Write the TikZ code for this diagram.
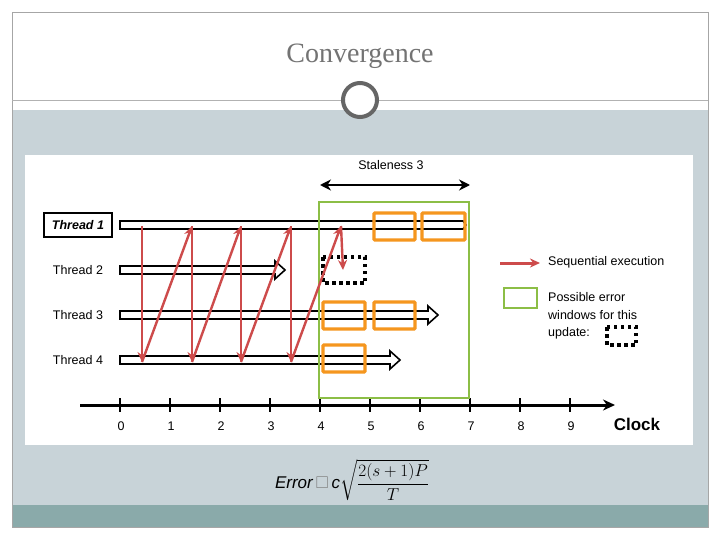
\documentclass[tikz,border=0pt]{standalone}
\usepackage{fontspec}
\usepackage{amssymb}
\setmainfont{Liberation Sans}
\newfontfamily\serifx{Liberation Serif}
\usetikzlibrary{arrows.meta}
\definecolor{band}{RGB}{200,211,216}
\definecolor{bot}{RGB}{138,170,170}
\definecolor{redx}{RGB}{205,75,75}
\definecolor{orangex}{RGB}{245,150,30}
\definecolor{greenx}{RGB}{140,190,70}
\tikzset{
 thr/.style={draw=black,line width=1.6pt,fill=white},
 ob/.style={draw=orangex,line width=3.4pt,rounded corners=1pt},
 dotb/.style={draw=black,line width=3.4pt,dash pattern=on 3.5pt off 3.5pt},
 seq/.style={draw=redx,line width=2.4pt,-{Stealth[length=10pt,width=9pt]}},
 lab/.style={font=\fontsize{12.5}{14}\selectfont,anchor=west,inner sep=0pt},
 tl/.style={font=\fontsize{12.5}{14}\selectfont},
}
\begin{document}
\begin{tikzpicture}[x=1pt,y=-1pt]
\useasboundingbox (0,0) rectangle (720,540);
\fill[white] (0,0) rectangle (720,540);
\fill[band] (12,110) rectangle (708,505);
\fill[bot] (12,505) rectangle (708,527);
\draw[gray!70,line width=0.6pt] (12,12) rectangle (708,527);
\draw[gray!60,line width=0.7pt] (12,100) -- (708,100);
\node[font=\serifx\fontsize{28}{30}\selectfont,text=gray!90!black] (title) at (360,56) {Convergence};
\draw[gray!80!black,line width=4pt,fill=white] (360,100) circle (17);
\fill[white] (25,155) rectangle (693,445);
% axis
\draw[line width=3pt,-{Stealth[length=12pt,width=11pt]}] (80,405) -- (615,405);
\foreach \i in {0,...,9}{
 \draw[line width=2pt] (120+50*\i,398) -- (120+50*\i,412);
 \node[tl] at (121+50*\i,426) {\i};
}
\node[font=\bfseries\fontsize{17}{18}\selectfont] (clock) at (637,424) {Clock};
% threads
\newcommand\thrarrow[2]{\draw[thr] (120,#1-4) -- (#2-10,#1-4) -- (#2-10,#1-9) -- (#2,#1) -- (#2-10,#1+9) -- (#2-10,#1+4) -- (120,#1+4) -- cycle;}
\draw[thr] (120,221) -- (463,221) -- (466,225) -- (463,229) -- (120,229) -- cycle;
\thrarrow{270}{285}
\thrarrow{315}{438}
\thrarrow{360}{400}
\node[draw,line width=1.6pt,inner sep=3pt,font=\bfseries\itshape\fontsize{12.5}{14}\selectfont,minimum width=68pt,minimum height=24pt] (t1) at (78,225) {Thread 1};
\node[tl] (t2) at (78,270) {Thread 2};
\node[tl] (t3) at (78,315) {Thread 3};
\node[tl] (t4) at (78,360) {Thread 4};
% boxes
\draw[greenx,line width=2.4pt] (319,202) rectangle (469,398);
\draw[ob] (374,213) rectangle (415,240);
\draw[ob] (422,213) rectangle (465,240);
\draw[ob] (323,302) rectangle (365,329);
\draw[ob] (374,302) rectangle (415,329);
\draw[ob] (323,345) rectangle (365,372);
\draw[dotb] (323,257) rectangle (365,283);
% staleness
\draw[line width=2.6pt,{Stealth[length=11pt,width=11pt]}-{Stealth[length=11pt,width=11pt]}] (320,185) -- (470,185);
\node[tl] (st) at (391,165) {Staleness 3};
% red zigzag
\coordinate (a0) at (142,226);
\coordinate (b0) at (142,362);
\coordinate (a1) at (192,226);
\coordinate (b1) at (192,362);
\coordinate (a2) at (241,226);
\coordinate (b2) at (241,362);
\coordinate (a3) at (291,226);
\coordinate (b3) at (291,362);
\coordinate (a4) at (341,226);
\coordinate (b4) at (343,270);
\draw[seq] (a0) -- (b0);
\draw[seq] (b0) -- (a1);
\draw[seq] (a1) -- (b1);
\draw[seq] (b1) -- (a2);
\draw[seq] (a2) -- (b2);
\draw[seq] (b2) -- (a3);
\draw[seq] (a3) -- (b3);
\draw[seq] (b3) -- (a4);
\draw[seq] (a4) -- (b4);
% legend
\coordinate (l1) at (500,263); \coordinate (l2) at (540,263);
\draw[seq,line width=3pt] (l1) -- (l2);
\node[lab] (ls) at (548,262) {Sequential execution};
\draw[greenx,line width=2.4pt] (504,288) rectangle (537,308);
\node[lab] (lp1) at (548,297) {Possible error};
\node[lab] (lp2) at (548,315) {windows for this};
\node[lab] (lp3) at (548,333) {update:};
\draw[dotb] (607,327) rectangle (636,345);
% formula
\node[font=\fontsize{17}{19}\selectfont] (f) at (352,480) {\itshape Error\,\textcolor{gray}{\upshape$\square$}\,c$\displaystyle\sqrt{\frac{2(s+1)P}{T}}$};
\end{tikzpicture}
\end{document}
